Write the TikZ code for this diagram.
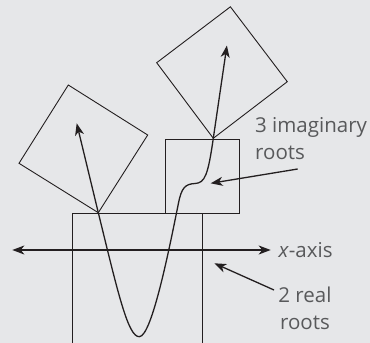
\documentclass[tikz,border=0pt]{standalone}
\usepackage{fontspec}
\setmainfont{Open Sans}
\usetikzlibrary{arrows.meta}
\definecolor{bg}{HTML}{E6E7E9}
\definecolor{ink}{HTML}{231F20}
\definecolor{txt}{HTML}{58595B}
\begin{document}
\begin{tikzpicture}[x=1pt,y=-1pt,
  line/.style={draw=ink,line width=0.9pt},
  curveline/.style={draw=ink,line width=1.3pt},
  arr/.style={draw=ink,line width=1.3pt,-{Stealth[length=12pt,width=9pt,inset=3.5pt]}},
  dblarr/.style={draw=ink,line width=1.3pt,{Stealth[length=12pt,width=9pt,inset=3.5pt]}-{Stealth[length=12pt,width=9pt,inset=3.5pt]}},
  lbl/.style={text=txt,font=\fontsize{20.5}{27}\selectfont,inner sep=0pt}]
\fill[bg] (0,0) rectangle (370,343);
\useasboundingbox (0,0) rectangle (370,343);
% boxes
\draw[line] (72.3,345) -- (72.3,213.3) -- (202,213.3) -- (202,345);
\draw[line] (165.7,213.3) rectangle (239,139);
% tilted squares
\coordinate (cL) at (98.3,212.7);
\coordinate (cR) at (213.3,138.3);
\draw[line] (cL) -- (147.7,135) -- (68.3,85) -- (19,163.3) -- cycle;
\draw[line] (cR) -- (287.3,81.7) -- (230.4,6.8) -- (156.7,62.7) -- cycle;
% x-axis
\coordinate (axL) at (12.3,250);
\coordinate (axR) at (270.7,250);
\draw[dblarr] (axL) -- (axR);
% curve
\draw[curveline] (cL) .. controls (118,293) and (128,337) .. (139.3,336.7)
  .. controls (152,336.7) and (170,245) .. (178.5,203)
  .. controls (181.5,188) and (185,184) .. (195,183.5)
  .. controls (205,183) and (208,175) .. (cR);
% tangent arrows
\coordinate (tL) at (76.7,123.3);
\coordinate (tR) at (226.9,45.5);
\draw[arr] (cL) -- (tL);
\draw[arr] (cR) -- (tR);
% labels
\node[lbl,anchor=base west] (xa) at (278.3,257) {\textit{x}-axis};
\node[lbl,anchor=north west,align=left] (im) at (255,117) {3 imaginary\\roots};
\node[lbl,anchor=north,align=center] (re) at (305,287) {2 real\\roots};
% pointer arrows
\coordinate (pIm) at (297.7,169);
\coordinate (pRe) at (274,290);
\draw[arr] (pIm) -- (210.7,183.3);
\draw[arr] (pRe) -- (214.3,263.3);
\end{tikzpicture}
\end{document}
